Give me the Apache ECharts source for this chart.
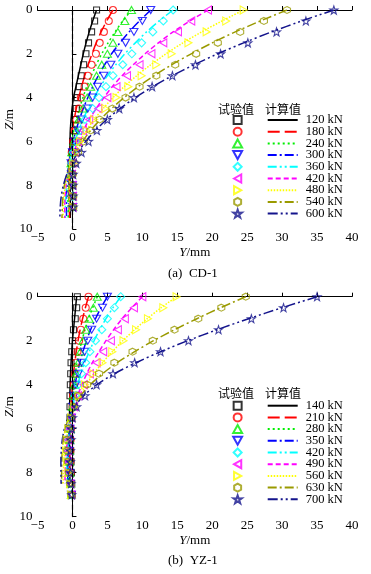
<!DOCTYPE html>
<html>
<head>
<meta charset="utf-8">
<script src="https://cdn.jsdelivr.net/npm/echarts@6/dist/echarts.min.js"></script>
<style>
html,body{margin:0;padding:0;background:#fff;}
#c{width:371px;height:574px;}
</style>
</head>
<body>
<div id="c"></div>
<script>
// ---------- DATA ----------
const depthTest = [0,0.5,1,1.5,2,2.5,3,3.5,4,4.5,5,5.5,6,6.5,7,7.5,8,8.5,9];
const depthCalcA = [0,0.5,1,1.5,2,2.5,3,3.5,4,4.5,5,5.5,6,6.5,7,7.5,8,8.5,9,9.5];
const depthCalcB = [0,0.5,1,1.5,2,2.5,3,3.5,4,4.5,5,5.5,6,6.5,7,7.5,8,8.5];

const loadsA = ['120 kN','180 kN','240 kN','300 kN','360 kN','420 kN','480 kN','540 kN','600 kN'];
const loadsB = ['140 kN','210 kN','280 kN','350 kN','420 kN','490 kN','560 kN','630 kN','700 kN'];

const xTicks = [-5,0,5,10,15,20,25,30,35,40];
const zTicks = [0,2,4,6,8,10];

// CD-1 measured (试验值)
const cdTest120 = [3.45,3.17,2.74,2.3,1.93,1.6,1.26,0.97,0.69,0.55,0.35,0.15,0.05,-0.1,-0.15,-0.1,-0.05,0,0];
const cdTest180 = [5.8,5.2,4.5,3.9,3.36,2.74,2.2,1.74,1.2,0.9,0.55,0.3,0.1,-0.1,-0.2,-0.1,-0.05,0,0];
const cdTest240 = [8.45,7.5,6.5,5.8,5.0,4.2,3.45,2.6,2.1,1.5,0.9,0.5,0.2,-0.1,-0.2,-0.15,-0.05,0,0.05];
const cdTest300 = [11.2,10.0,8.8,7.6,6.5,5.5,4.5,3.6,2.9,2.2,1.3,0.8,0.35,0,-0.2,-0.15,0,0,0.05];
const cdTest360 = [14.4,13.0,11.5,9.9,8.5,7.2,5.8,4.8,3.8,2.9,1.8,1.1,0.5,0.1,-0.15,-0.1,0,0.05,0.05];
const cdTest420 = [19.4,17.0,15.1,13.0,11.3,9.6,7.8,6.3,5.0,3.7,2.4,1.5,0.8,0.3,0,-0.1,0,0.05,0.05];
const cdTest480 = [24.5,22.0,19.2,16.6,14.2,12.0,9.9,8.0,6.3,4.7,3.1,2.0,1.1,0.5,0.1,0,0.05,0.05,0.1];
const cdTest540 = [30.7,27.4,24.0,20.8,17.7,14.7,12.0,9.6,7.6,5.7,3.9,2.6,1.6,0.8,0.3,0.05,0.05,0.1,0.1];
const cdTest600 = [37.4,33.4,29.2,25.1,21.2,17.6,14.3,11.4,8.8,6.7,5.0,3.5,2.3,1.3,0.55,0.1,0.1,0.1,0.1];

// CD-1 calculated (计算值)
const cdCalc120 = [3.45,2.9,2.4,1.95,1.55,1.2,0.85,0.5,0.15,-0.05,-0.2,-0.3,-0.35,-0.38,-0.38,-0.36,-0.34,-0.32,-0.3,-0.3];
const cdCalc180 = [5.8,4.9,4.1,3.4,2.8,2.25,1.75,1.3,0.9,0.55,0.25,0,-0.2,-0.35,-0.45,-0.5,-0.5,-0.48,-0.45,-0.42];
const cdCalc240 = [8.45,7.2,6.1,5.1,4.2,3.4,2.7,2.05,1.5,1.0,0.55,0.2,-0.1,-0.35,-0.5,-0.6,-0.65,-0.65,-0.62,-0.6];
const cdCalc300 = [11.2,9.6,8.1,6.8,5.6,4.6,3.7,2.9,2.2,1.55,1.0,0.5,0.1,-0.25,-0.5,-0.7,-0.8,-0.85,-0.85,-0.85];
const cdCalc360 = [14.4,12.4,10.6,9.0,7.5,6.2,5.0,4.0,3.05,2.25,1.5,0.9,0.35,-0.1,-0.45,-0.7,-0.85,-0.95,-1.0,-1.0];
const cdCalc420 = [19.4,16.8,14.4,12.3,10.4,8.7,7.1,5.7,4.5,3.4,2.4,1.55,0.8,0.2,-0.3,-0.65,-0.9,-1.05,-1.1,-1.1];
const cdCalc480 = [24.5,21.4,18.5,15.8,13.4,11.2,9.2,7.4,5.8,4.4,3.1,2.0,1.1,0.35,-0.25,-0.7,-1.0,-1.2,-1.3,-1.35];
const cdCalc540 = [30.7,26.9,23.3,20.0,17.0,14.2,11.7,9.4,7.4,5.6,4.0,2.6,1.45,0.5,-0.25,-0.8,-1.15,-1.35,-1.45,-1.5];
const cdCalc600 = [37.4,32.8,28.5,24.5,20.8,17.4,14.3,11.5,9.0,6.8,4.9,3.3,1.9,0.8,-0.1,-0.8,-1.3,-1.6,-1.75,-1.8];

// YZ-1 measured (试验值)
const yzTest140 = [0.7,0.6,0.4,0.15,0,-0.1,-0.2,-0.25,-0.3,-0.35,-0.35,-0.35,-0.3,-0.3,-0.25,-0.2,-0.15,-0.1,-0.05];
const yzTest210 = [2.3,1.9,1.55,1.2,0.95,0.72,0.5,0.33,0.2,0.08,0,-0.1,-0.2,-0.25,-0.3,-0.3,-0.25,-0.2,-0.1];
const yzTest280 = [3.55,3.0,2.4,1.9,1.5,1.12,0.8,0.52,0.3,0.12,0,-0.15,-0.3,-0.35,-0.4,-0.4,-0.35,-0.25,-0.15];
const yzTest350 = [5.0,4.3,3.45,2.75,2.2,1.75,1.3,0.85,0.5,0.22,0.05,-0.15,-0.35,-0.45,-0.5,-0.5,-0.4,-0.3,-0.15];
const yzTest420 = [6.9,6.0,5.0,4.2,3.3,2.5,1.9,1.3,0.85,0.4,0.1,-0.15,-0.4,-0.55,-0.6,-0.55,-0.45,-0.3,-0.15];
const yzTest490 = [10.0,8.8,7.5,6.5,5.5,4.4,3.45,2.5,1.6,0.8,0.25,-0.15,-0.45,-0.65,-0.7,-0.6,-0.5,-0.3,-0.15];
const yzTest560 = [14.9,13.0,10.8,9.1,7.3,5.7,4.3,3.0,1.8,0.9,0.25,-0.2,-0.6,-0.85,-0.9,-0.75,-0.55,-0.35,-0.2];
const yzTest630 = [24.8,21.3,18.0,14.6,11.5,8.6,6.0,3.8,2.1,0.8,0.15,-0.2,-0.55,-0.75,-0.75,-0.65,-0.5,-0.3,-0.15];
const yzTest700 = [35.0,30.2,25.6,20.9,16.6,12.6,8.9,5.8,3.45,1.8,0.6,0,-0.1,-0.2,-0.3,-0.3,-0.3,-0.2,-0.1];

// YZ-1 calculated (计算值)
const yzCalc140 = [0.6,0.45,0.3,0.15,0,-0.1,-0.2,-0.28,-0.33,-0.37,-0.4,-0.42,-0.43,-0.43,-0.42,-0.4,-0.38,-0.36];
const yzCalc210 = [2.3,1.85,1.45,1.1,0.8,0.55,0.33,0.15,0,-0.12,-0.22,-0.3,-0.36,-0.4,-0.42,-0.42,-0.41,-0.4];
const yzCalc280 = [3.55,2.9,2.3,1.8,1.35,0.98,0.66,0.4,0.18,0,-0.15,-0.27,-0.37,-0.45,-0.5,-0.52,-0.53,-0.53];
const yzCalc350 = [5.0,4.1,3.3,2.6,2.0,1.5,1.05,0.68,0.38,0.12,-0.1,-0.28,-0.42,-0.53,-0.6,-0.65,-0.67,-0.68];
const yzCalc420 = [6.9,5.8,4.8,3.9,3.1,2.4,1.75,1.2,0.75,0.38,0.06,-0.2,-0.42,-0.58,-0.7,-0.78,-0.82,-0.84];
const yzCalc490 = [10.0,8.5,7.1,5.9,4.8,3.8,2.85,2.05,1.35,0.75,0.25,-0.15,-0.47,-0.7,-0.87,-0.98,-1.04,-1.07];
const yzCalc560 = [14.9,12.7,10.7,8.9,7.2,5.7,4.3,3.05,2.0,1.1,0.4,-0.15,-0.58,-0.88,-1.1,-1.22,-1.3,-1.33];
const yzCalc630 = [24.8,21.2,17.8,14.6,11.6,8.9,6.4,4.3,2.55,1.15,0.15,-0.55,-1.0,-1.3,-1.45,-1.52,-1.55,-1.55];
const yzCalc700 = [35.0,30.0,25.2,20.7,16.5,12.6,9.1,6.0,3.5,1.6,0.3,-0.6,-1.15,-1.45,-1.6,-1.65,-1.65,-1.62];

const testA = [cdTest120,cdTest180,cdTest240,cdTest300,cdTest360,cdTest420,cdTest480,cdTest540,cdTest600];
const calcA = [cdCalc120,cdCalc180,cdCalc240,cdCalc300,cdCalc360,cdCalc420,cdCalc480,cdCalc540,cdCalc600];
const testB = [yzTest140,yzTest210,yzTest280,yzTest350,yzTest420,yzTest490,yzTest560,yzTest630,yzTest700];
const calcB = [yzCalc140,yzCalc210,yzCalc280,yzCalc350,yzCalc420,yzCalc490,yzCalc560,yzCalc630,yzCalc700];

// ---------- STYLE ----------
const colors = ['#000000','#ff0000','#00ee00','#0000ff','#00ffff','#ff00ff','#ffff00','#9a9a00','#14148c'];
const dashes = ['solid',[12,5],[2,3],[9,3,2,3],[9,3,2,3,2,3],[5,3],[1.5,1.5],[9,3,2,3],[10,3,2,3,2,3]];
const symbols = [
  'path://M0,0L10,0L10,10L0,10Z',
  'circle',
  'path://M5,0L10,9L0,9Z',
  'path://M0,0L10,0L5,9Z',
  'path://M5,0L10,5L5,10L0,5Z',
  'path://M0,5L9,0L9,10Z',
  'path://M0,0L9,5L0,10Z',
  'path://M5,0L9.33,2.5L9.33,7.5L5,10L0.67,7.5L0.67,2.5Z',
  'path://M50,0L61.8,35.1L97.6,34.5L69.1,56.5L79.4,90.5L50,70L20.6,90.5L30.9,56.5L2.4,34.5L38.2,35.1Z'
];
const symSizes = [6,7,[8,7],[8,7],8,[7,8],[7,8],7,8];
const SERIF = '"Liberation Serif","DejaVu Serif",serif';
const CJK = '"Noto Sans CJK SC","Noto Sans CJK JP",sans-serif';

const chart = echarts.init(document.getElementById('c'), null, {renderer:'canvas'});

const grids = [
  {left:37.5, top:10, width:314.5, height:219, outerBoundsMode:'none', containLabel:false},
  {left:37.5, top:296.7, width:314.5, height:220, outerBoundsMode:'none', containLabel:false}
];

function xAxisOpt(i){
  return {
    type:'value', gridIndex:i, min:-5, max:40, interval:5,
    axisLine:{lineStyle:{color:'#000',width:1}},
    axisTick:{inside:true,length:4,lineStyle:{color:'#000'}},
    axisLabel:{color:'#000',fontFamily:SERIF,fontSize:13,margin:2,
      formatter:v=>String(v).replace('-','\u2212')},
    splitLine:{show:false},
    name:'{i|Y}/mm', nameLocation:'middle', nameGap:17, nameMoveOverlap:false,
    nameTextStyle:{color:'#000',fontFamily:SERIF,fontSize:13,
      rich:{i:{fontStyle:'italic',fontFamily:SERIF,fontSize:13,color:'#000'}}}
  };
}
function yAxisOpt(i){
  return {
    type:'value', gridIndex:i, min:0, max:10, interval:2, inverse:true,
    axisLine:{lineStyle:{color:'#000',width:1}},
    axisTick:{inside:true,length:4,lineStyle:{color:'#000'}},
    axisLabel:{color:'#000',fontFamily:SERIF,fontSize:13,margin:5},
    splitLine:{show:false},
    name:'{i|Z}/m', nameLocation:'middle', nameGap:21, nameRotate:90, nameMoveOverlap:false,
    nameTextStyle:{color:'#000',fontFamily:SERIF,fontSize:13,
      rich:{i:{fontStyle:'italic',fontFamily:SERIF,fontSize:13,color:'#000'}}}
  };
}

const series = [];
const legendTestNames = [[],[]];
const legendCalcNames = [[],[]];
function addPanel(p, loads, tests, calcs, depthC){
  const tag = p===0 ? 'a' : 'b';
  loads.forEach((ld,j)=>{
    const cname = tag+'|'+ld;
    series.push({
      type:'line', name:cname, xAxisIndex:p, yAxisIndex:p,
      data: calcs[j].map((v,k)=>[v, depthC[k]]),
      symbol:'none', smooth:0.3, z:2,
      lineStyle:{color:colors[j], width:1.5, type:dashes[j]},
      itemStyle:{color:colors[j]},
      markLine: j===0 ? {
        silent:true, symbol:'none', label:{show:false}, animation:false,
        lineStyle:{color:'#000', type:[5,3], width:1.2},
        data:[[{coord:[0,0]},{coord:[0,10]}]]
      } : undefined
    });
    legendCalcNames[p].push(cname);
  });
  loads.forEach((ld,j)=>{
    const tname = tag+'t|'+ld;
    series.push({
      type:'scatter', name:tname, xAxisIndex:p, yAxisIndex:p,
      data: tests[j].map((v,k)=>[v, depthTest[k]]),
      symbol:symbols[j], symbolSize:symSizes[j], z:3,
      itemStyle:{color:'rgba(255,255,255,0)', borderColor:colors[j], borderWidth:1.1}
    });
    legendTestNames[p].push(tname);
  });
}
addPanel(0, loadsA, testA, calcA, depthCalcA);
addPanel(1, loadsB, testB, calcB, depthCalcB);

const legendTops = [113.5, 399.2];
const GAP = -1.3;
const legends = [];
[0,1].forEach(p=>{
  legends.push({
    data: legendTestNames[p], orient:'vertical', left:232.2, top:legendTops[p], padding:0,
    itemWidth:9, itemHeight:8, itemGap:GAP, selectedMode:false,
    formatter:n=>n.split('|')[1],
    textStyle:{color:'rgba(0,0,0,0)',fontFamily:SERIF,fontSize:12.5},
    itemStyle:{}
  });
  legends.push({
    data: legendCalcNames[p], orient:'vertical', left:266.7, top:legendTops[p], padding:0,
    itemWidth:30, itemHeight:8, itemGap:GAP, selectedMode:false,
    formatter:n=>n.split('|')[1],
    textStyle:{color:'#000',fontFamily:SERIF,fontSize:12.5,padding:[0,0,0,3]},
    itemStyle:{opacity:0}
  });
});

const option = {
  backgroundColor:'#fff',
  animation:false,
  grid: grids,
  xAxis:[xAxisOpt(0), xAxisOpt(1)],
  yAxis:[yAxisOpt(0), yAxisOpt(1)],
  legend: legends,
  series: series,
  graphic:[
    {type:'text', left:218, top:103, style:{text:'试验值', font:'12px '+CJK, fill:'#000'}},
    {type:'text', left:265, top:103, style:{text:'计算值', font:'12px '+CJK, fill:'#000'}},
    {type:'text', left:218, top:387.5, style:{text:'试验值', font:'12px '+CJK, fill:'#000'}},
    {type:'text', left:265, top:387.5, style:{text:'计算值', font:'12px '+CJK, fill:'#000'}},
    {type:'text', left:168, top:267, style:{text:'(a)  CD-1', font:'13px '+SERIF, fill:'#000'}},
    {type:'text', left:168, top:554, style:{text:'(b)  YZ-1', font:'13px '+SERIF, fill:'#000'}}
  ]
};
chart.setOption(option);
</script>
</body>
</html>
